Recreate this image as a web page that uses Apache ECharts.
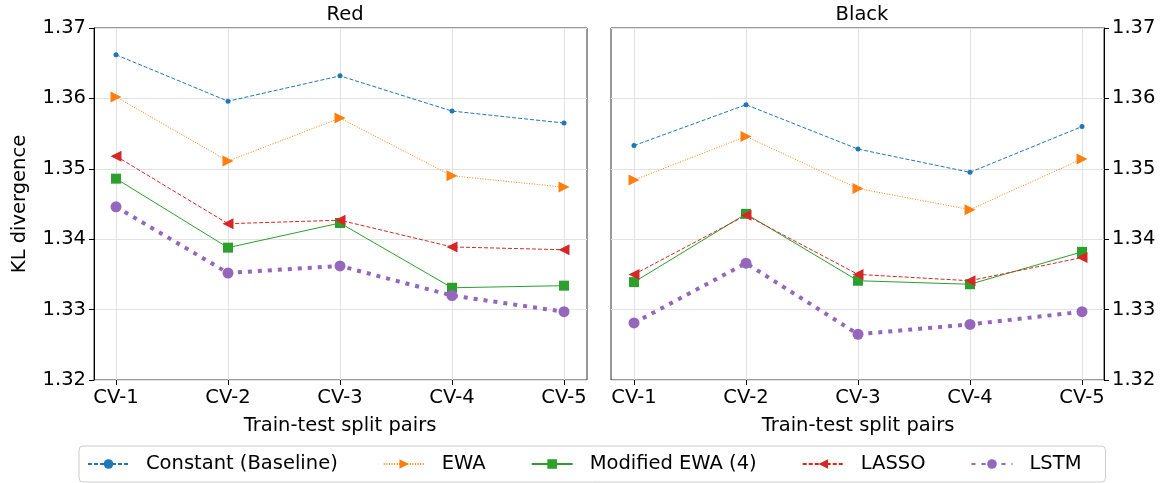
<!DOCTYPE html>
<html>
<head>
<meta charset="utf-8">
<script src="https://cdn.jsdelivr.net/npm/echarts@6/dist/echarts.min.js"></script>
<style>
  html, body { margin: 0; padding: 0; background: #fff; }
  #chart { width: 1169px; height: 483px; }
</style>
</head>
<body>
<div id="chart"></div>
<script>
// data
const categories = ['CV-1', 'CV-2', 'CV-3', 'CV-4', 'CV-5'];
const yTicks = [1.32, 1.33, 1.34, 1.35, 1.36, 1.37];
const panelTitles = ['Red', 'Black'];

const redConstant = [1.3662, 1.3596, 1.3632, 1.3582, 1.3565];
const redEWA      = [1.3602, 1.3511, 1.3572, 1.3490, 1.3474];
const redModEWA   = [1.3486, 1.3388, 1.3423, 1.3331, 1.3334];
const redLASSO    = [1.3518, 1.3422, 1.3427, 1.3389, 1.3385];
const redLSTM     = [1.3446, 1.3352, 1.3362, 1.3320, 1.3297];

const blackConstant = [1.3533, 1.3591, 1.3528, 1.3495, 1.3560];
const blackEWA      = [1.3484, 1.3546, 1.3472, 1.3442, 1.3514];
const blackModEWA   = [1.3339, 1.3436, 1.3341, 1.3336, 1.3382];
const blackLASSO    = [1.3350, 1.3434, 1.3350, 1.3341, 1.3374];
const blackLSTM     = [1.3281, 1.3366, 1.3265, 1.3279, 1.3297];

const FONT = 'DejaVu Sans';
const FS = 19.5;
const yMin = yTicks[0], yMax = yTicks[yTicks.length - 1];

// style of each method (matplotlib tab10)
const styles = {
    'Constant (Baseline)': { color: '#1f77b4', symbol: 'circle', size: 5, rotate: 0, width: 1, dash: [4, 2] },
    'EWA': { color: '#ff7f0e', symbol: 'triangle', size: 11, rotate: -90, width: 1, dash: [1, 1.6] },
    'Modified EWA (4)': { color: '#2ca02c', symbol: 'rect', size: 10, rotate: 0, width: 1, dash: 'solid' },
    'LASSO': { color: '#d62728', symbol: 'triangle', size: 11, rotate: 90, width: 1, dash: [4, 2] },
    'LSTM': { color: '#9467bd', symbol: 'circle', size: 11, rotate: 0, width: 4, dash: [4, 6] }
};

const panels = [
    { 'Constant (Baseline)': redConstant, 'EWA': redEWA, 'Modified EWA (4)': redModEWA, 'LASSO': redLASSO, 'LSTM': redLSTM },
    { 'Constant (Baseline)': blackConstant, 'EWA': blackEWA, 'Modified EWA (4)': blackModEWA, 'LASSO': blackLASSO, 'LSTM': blackLSTM }
];

const makeSeries = (panelIdx) => Object.keys(styles).map(name => {
    const s = styles[name];
    return {
        name: name,
        type: 'line',
        xAxisIndex: panelIdx * 2 + 1,
        yAxisIndex: panelIdx * 2 + 1,
        data: panels[panelIdx][name],
        symbol: s.symbol,
        symbolSize: s.size,
        symbolRotate: s.rotate,
        showAllSymbol: true,
        color: s.color,
        itemStyle: { color: s.color },
        lineStyle: { color: s.color, width: s.width, type: s.dash },
        animation: false
    };
});

// outer frame: y ticks, labels and horizontal grid lines
const frameY = (idx, pos) => ({
    gridIndex: idx * 2,
    type: 'value',
    position: pos,
    min: yMin,
    max: yMax,
    interval: 0.01,
    axisLine: { show: true, onZero: false, lineStyle: { color: '#000', width: 1 } },
    axisTick: { show: true, length: 5, lineStyle: { color: '#000' } },
    axisLabel: { fontFamily: FONT, fontSize: FS, color: '#000', margin: 8, formatter: v => v.toFixed(2) },
    splitLine: { show: true, lineStyle: { color: '#e2e2e2', width: 1 } },
    name: idx === 0 ? 'KL divergence' : '',
    nameLocation: 'middle',
    nameGap: 64,
    nameTextStyle: { fontFamily: FONT, fontSize: FS, color: '#000' }
});

const frameX = (idx) => ({ gridIndex: idx * 2, type: 'value', min: 0, max: 1, show: false });

// inner data area: categories with matplotlib-like side margins
const dataX = (idx) => ({
    gridIndex: idx * 2 + 1,
    type: 'category',
    data: categories,
    boundaryGap: false,
    axisLine: { show: false, onZero: false },
    axisTick: { show: true, length: 5, alignWithLabel: true, lineStyle: { color: '#000' } },
    axisLabel: { fontFamily: FONT, fontSize: FS, color: '#000', margin: 8 },
    splitLine: { show: true, lineStyle: { color: '#e2e2e2', width: 1 } },
    name: 'Train-test split pairs',
    nameLocation: 'middle',
    nameGap: 36,
    nameTextStyle: { fontFamily: FONT, fontSize: FS, color: '#000' }
});

const dataY = (idx) => ({ gridIndex: idx * 2 + 1, type: 'value', min: yMin, max: yMax, show: false });

const option = {
    backgroundColor: '#fff',
    animation: false,
    title: panelTitles.map((t, i) => ({
        text: t,
        left: i === 0 ? 340 : 857,
        top: 0,
        textAlign: 'center',
        textStyle: { fontFamily: FONT, fontSize: FS, fontWeight: 'normal', color: '#000' }
    })),
    legend: {
        data: Object.keys(styles),
        left: 79,
        top: 446,
        itemWidth: 41,
        itemHeight: 12,
        itemGap: 45,
        padding: [8, 24, 8, 8],
        borderColor: '#ccc',
        borderWidth: 1,
        borderRadius: 4,
        textStyle: { fontFamily: FONT, fontSize: FS, color: '#000', padding: [0, 0, 0, 12] }
    },
    grid: [
        { left: 94, top: 28, width: 493, height: 352, show: true, borderColor: '#333', borderWidth: 1, backgroundColor: 'transparent' },
        { left: 116, top: 28, width: 448, height: 352 },
        { left: 611, top: 28, width: 493, height: 352, show: true, borderColor: '#333', borderWidth: 1, backgroundColor: 'transparent' },
        { left: 634, top: 28, width: 448, height: 352 }
    ],
    xAxis: [frameX(0), dataX(0), frameX(1), dataX(1)],
    yAxis: [frameY(0, 'left'), dataY(0), frameY(1, 'right'), dataY(1)],
    series: [...makeSeries(0), ...makeSeries(1)]
};

const chart = echarts.init(document.getElementById('chart'));
chart.setOption(option);
window.addEventListener('resize', () => chart.resize());
</script>
</body>
</html>
